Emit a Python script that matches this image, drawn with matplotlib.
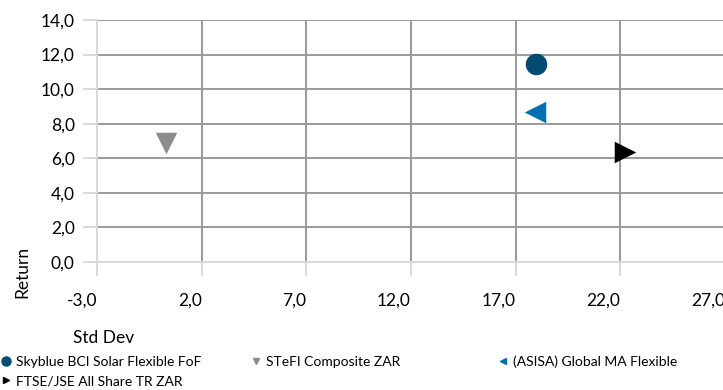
import numpy as np
import matplotlib.pyplot as plt
from matplotlib.ticker import FuncFormatter
from matplotlib.lines import Line2D

plt.rcParams.update({'font.size': 12, 'font.family': ['Lato', 'DejaVu Sans']})

# datos
series = ['Skyblue BCI Solar Flexible FoF', 'STeFI Composite ZAR',
          '(ASISA) Global MA Flexible', 'FTSE/JSE All Share TR ZAR']
std_dev = [17.95, 0.3, 17.9, 22.2]
returns = [11.45, 6.9, 8.7, 6.35]
colores = ['#004b71', '#8c8c8c', '#0070b0', '#000000']
marcadores = ['o', 'v', '<', '>']

fig = plt.figure(figsize=(7.23, 3.9), dpi=100)
ax = fig.add_axes([97/723, 1-262/390, 628/723, 242/390])

for s, x, y, c, m in zip(series, std_dev, returns, colores, marcadores):
    ax.scatter(x, y, s=240, marker=m, color=c, zorder=3, linewidths=0, label=s)

ax.set_xlim(-3, 27)
ax.set_ylim(0, 14)
ax.set_xticks(np.arange(-3, 28, 5))
ax.set_yticks(np.arange(0, 15, 2))
fmt = FuncFormatter(lambda v, p: ('%.1f' % v).replace('.', ','))
ax.xaxis.set_major_formatter(fmt)
ax.yaxis.set_major_formatter(fmt)

ax.grid(True, color='#999999', linewidth=1.4)
ax.set_axisbelow(True)
for lado in ['top', 'right']:
    ax.spines[lado].set_visible(False)
for lado in ['left', 'bottom']:
    ax.spines[lado].set_color('#d9d9d9')
    ax.spines[lado].set_linewidth(1.4)
    ax.spines[lado].set_zorder(2.5)
ax.tick_params(length=10, width=1.4, color='#d9d9d9', labelsize=12.5, pad=6)
ax.tick_params(axis='x', pad=12)
for etiqueta in ax.get_xticklabels():
    etiqueta.set_horizontalalignment('right')

fig.text(22/723, 1-272/390, 'Return', rotation=90, ha='center', va='center', fontsize=12.5)
fig.text(104/723, 1-338/390, 'Std Dev', ha='center', va='center', fontsize=12.5)

# leyenda: cada entrada en su sitio
pos = [(2, 362), (252, 362), (499, 362), (2, 381)]
tam = [6.5, 5, 5, 5]
for s, c, m, t, (px, py) in zip(series, colores, marcadores, tam, pos):
    h = Line2D([], [], linestyle='none', marker=m, color=c, markersize=t)
    fig.legend(handles=[h], labels=[s], loc='center left',
               bbox_to_anchor=(px/723, 1-py/390), frameon=False, fontsize=10,
               handlelength=0.6, handletextpad=0.4, borderpad=0, borderaxespad=0)

plt.savefig('out.png', dpi=100)
